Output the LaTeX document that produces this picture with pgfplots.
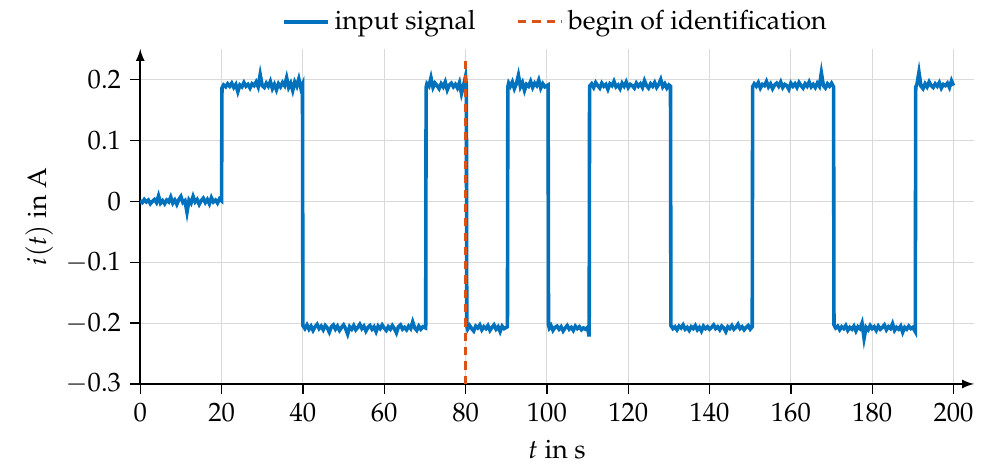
\documentclass[border=0pt]{standalone}
\usepackage[T1]{fontenc}
\usepackage{mathpazo}
\usepackage{pgfplots}
\pgfplotsset{compat=1.18}
\definecolor{sigblue}{RGB}{0,114,189}
\definecolor{idorange}{RGB}{217,83,25}

\begin{document}
\begin{tikzpicture}
\begin{axis}[
  scale only axis,
  width=11.45cm, height=4.6cm,
  xmin=0, xmax=205,
  ymin=-0.3, ymax=0.25,
  axis lines=left,
  axis line style={-latex, line width=0.6pt},
  xtick={0,20,...,200},
  ytick={-0.3,-0.2,-0.1,0,0.1,0.2},
  tick align=outside,
  tick style={black, line width=0.5pt},
  major tick length=4pt,
  grid=major,
  grid style={gray!30, line width=0.4pt},
  xlabel={$t$ in s},
  ylabel={$i(t)$ in A},
  ylabel shift=-2pt,
  every axis label/.append style={font=\fontsize{10.4}{12}\selectfont},
  tick label style={font=\fontsize{10.4}{12}\selectfont},
  legend columns=2,
  legend style={draw=none, at={(0.5,1.015)}, anchor=south, font=\fontsize{10.4}{12}\selectfont,
    /tikz/every even column/.append style={column sep=14pt}},
  legend cell align=left,
]
\addplot[sigblue, line width=1.4pt] coordinates {
(0,0.001)(0.5,-0.002)(1,0.003)(1.5,-0.001)(2,0.002)(2.5,-0.004)(3,0.000)(3.5,0.003)(4,-0.002)(4.5,0.009)
(5,-0.003)(5.5,0.001)(6,-0.004)(6.5,0.002)(7,-0.001)(7.5,0.007)(8,-0.003)(8.5,0.002)(9,-0.005)(9.5,0.003)
(10,0.008)(10.5,-0.002)(11,0.001)(11.5,-0.018)(12,0.002)(12.5,-0.003)(13,0.008)(13.5,-0.001)(14,0.003)(14.5,-0.005)
(15,0.001)(15.5,0.005)(16,-0.002)(16.5,0.003)(17,-0.004)(17.5,0.006)(18,-0.001)(18.5,0.002)(19,-0.003)(19.5,0.004)(20,0.001)
(20.1,0.186)(20.5,0.191)(21,0.188)(21.5,0.193)(22,0.189)(22.5,0.194)(23,0.187)(23.5,0.192)(24,0.180)(24.5,0.191)
(25,0.188)(25.5,0.195)(26,0.189)(26.5,0.192)(27,0.186)(27.5,0.193)(28,0.190)(28.5,0.196)(29,0.188)(29.5,0.208)
(30,0.190)(30.5,0.187)(31,0.194)(31.5,0.189)(32,0.197)(32.5,0.185)(33,0.192)(33.5,0.183)(34,0.193)(34.5,0.188)
(35,0.195)(35.5,0.190)(36,0.203)(36.5,0.187)(37,0.194)(37.5,0.182)(38,0.196)(38.5,0.189)(39,0.201)(39.5,0.186)(39.9,0.192)
(40,-0.204)(40.5,-0.209)(41,-0.203)(41.5,-0.210)(42,-0.205)(42.5,-0.212)(43,-0.206)(43.5,-0.202)(44,-0.209)(44.5,-0.205)
(45,-0.211)(45.5,-0.204)(46,-0.208)(46.5,-0.215)(47,-0.206)(47.5,-0.203)(48,-0.210)(48.5,-0.205)(49,-0.212)(49.5,-0.207)
(50,-0.203)(50.5,-0.209)(51,-0.218)(51.5,-0.206)(52,-0.210)(52.5,-0.204)(53,-0.211)(53.5,-0.207)(54,-0.202)(54.5,-0.209)
(55,-0.205)(55.5,-0.213)(56,-0.207)(56.5,-0.204)(57,-0.210)(57.5,-0.206)(58,-0.214)(58.5,-0.205)(59,-0.209)(59.5,-0.203)
(60,-0.208)(60.5,-0.212)(61,-0.206)(61.5,-0.210)(62,-0.204)(62.5,-0.209)(63,-0.216)(63.5,-0.206)(64,-0.203)(64.5,-0.210)
(65,-0.207)(65.5,-0.211)(66,-0.205)(66.5,-0.209)(67,-0.198)(67.5,-0.208)(68,-0.212)(68.5,-0.205)(69,-0.210)(69.5,-0.206)(70.2,-0.208)
(70.3,0.187)(70.5,0.193)(71,0.189)(71.5,0.203)(72,0.187)(72.5,0.194)(73,0.190)(73.5,0.185)(74,0.193)(74.5,0.188)
(75,0.196)(75.5,0.183)(76,0.191)(76.5,0.194)(77,0.188)(77.5,0.192)(78,0.186)(78.5,0.195)(79,0.177)(79.5,0.190)(80,0.205)(80.2,0.189)
(80.3,-0.205)(80.5,-0.210)(81,-0.204)(81.5,-0.209)(82,-0.213)(82.5,-0.205)(83,-0.208)(83.5,-0.203)(84,-0.211)(84.5,-0.206)
(85,-0.209)(85.5,-0.204)(86,-0.212)(86.5,-0.207)(87,-0.203)(87.5,-0.210)(88,-0.206)(88.5,-0.214)(89,-0.205)(89.5,-0.209)(90.3,-0.206)
(90.4,0.188)(90.6,0.194)(91,0.189)(91.5,0.196)(92,0.185)(92.5,0.193)(93,0.207)(93.5,0.188)(94,0.195)(94.5,0.182)
(95,0.192)(95.5,0.189)(96,0.197)(96.5,0.187)(97,0.194)(97.5,0.190)(98,0.199)(98.5,0.186)(99,0.193)(99.5,0.188)(100.3,0.191)
(100.4,-0.203)(100.6,-0.208)(101,-0.204)(101.5,-0.212)(102,-0.207)(102.5,-0.205)(103,-0.210)(103.5,-0.206)(104,-0.213)(104.5,-0.208)
(105,-0.204)(105.5,-0.210)(106,-0.207)(106.5,-0.212)(107,-0.205)(107.5,-0.209)(108,-0.206)(108.5,-0.211)(109,-0.208)(109.5,-0.210)(110,-0.207)(110.4,-0.222)
(110.5,0.189)(111,0.193)(111.5,0.187)(112,0.195)(112.5,0.190)(113,0.186)(113.5,0.194)(114,0.189)(114.5,0.192)
(115,0.184)(115.5,0.193)(116,0.190)(116.5,0.197)(117,0.188)(117.5,0.191)(118,0.185)(118.5,0.194)(119,0.189)(119.5,0.196)
(120,0.187)(120.5,0.192)(121,0.190)(121.5,0.186)(122,0.194)(122.5,0.189)(123,0.193)(123.5,0.187)(124,0.198)(124.5,0.190)
(125,0.186)(125.5,0.193)(126,0.189)(126.5,0.195)(127,0.187)(127.5,0.192)(128,0.200)(128.5,0.188)(129,0.193)(129.5,0.186)(130,0.191)(130.4,0.189)
(130.5,-0.204)(131,-0.209)(131.5,-0.206)(132,-0.211)(132.5,-0.205)(133,-0.208)(133.5,-0.203)(134,-0.210)(134.5,-0.207)
(135,-0.212)(135.5,-0.206)(136,-0.209)(136.5,-0.204)(137,-0.211)(137.5,-0.207)(138,-0.213)(138.5,-0.205)(139,-0.209)(139.5,-0.206)
(140,-0.210)(140.5,-0.207)(141,-0.203)(141.5,-0.209)(142,-0.206)(142.5,-0.211)(143,-0.205)(143.5,-0.208)(144,-0.214)(144.5,-0.206)
(145,-0.209)(145.5,-0.204)(146,-0.210)(146.5,-0.207)(147,-0.202)(147.5,-0.209)(148,-0.206)(148.5,-0.211)(149,-0.207)(149.5,-0.204)(150,-0.210)(150.5,-0.206)
(150.6,0.188)(151,0.193)(151.5,0.189)(152,0.195)(152.5,0.186)(153,0.192)(153.5,0.190)(154,0.197)(154.5,0.188)
(155,0.193)(155.5,0.185)(156,0.191)(156.5,0.194)(157,0.189)(157.5,0.196)(158,0.187)(158.5,0.192)(159,0.190)(159.5,0.184)
(160,0.194)(160.5,0.189)(161,0.193)(161.5,0.187)(162,0.195)(162.5,0.190)(163,0.186)(163.5,0.193)(164,0.189)(164.5,0.196)
(165,0.188)(165.5,0.192)(166,0.187)(166.5,0.194)(167,0.189)(167.5,0.211)(168,0.190)(168.5,0.186)(169,0.193)(169.5,0.189)(170,0.194)(170.5,0.188)
(170.6,-0.203)(171,-0.208)(171.5,-0.205)(172,-0.211)(172.5,-0.206)(173,-0.209)(173.5,-0.204)(174,-0.212)(174.5,-0.207)
(175,-0.210)(175.5,-0.205)(176,-0.213)(176.5,-0.206)(177,-0.209)(177.5,-0.200)(178,-0.225)(178.5,-0.207)(179,-0.211)(179.5,-0.204)
(180,-0.209)(180.5,-0.206)(181,-0.212)(181.5,-0.205)(182,-0.210)(182.5,-0.207)(183,-0.203)(183.5,-0.211)(184,-0.206)(184.5,-0.209)
(185,-0.201)(185.5,-0.212)(186,-0.207)(186.5,-0.210)(187,-0.205)(187.5,-0.215)(188,-0.207)(188.5,-0.210)(189,-0.205)(189.5,-0.209)(190,-0.207)(190.6,-0.214)
(190.7,0.188)(191,0.192)(191.5,0.212)(192,0.189)(192.5,0.185)(193,0.193)(193.5,0.188)(194,0.196)(194.5,0.190)
(195,0.187)(195.5,0.193)(196,0.189)(196.5,0.195)(197,0.186)(197.5,0.192)(198,0.190)(198.5,0.194)(199,0.187)(199.5,0.198)(200,0.190)
};
\addlegendentry{input signal}
\addplot[idorange, line width=1.1pt, dash pattern=on 3.2pt off 2.4pt] coordinates {(80,-0.3)(80,0.24)};
\addlegendentry{begin of identification}
\end{axis}
\path (current axis.outer south west) ++(-0.23cm,0);
\end{tikzpicture}
\end{document}
